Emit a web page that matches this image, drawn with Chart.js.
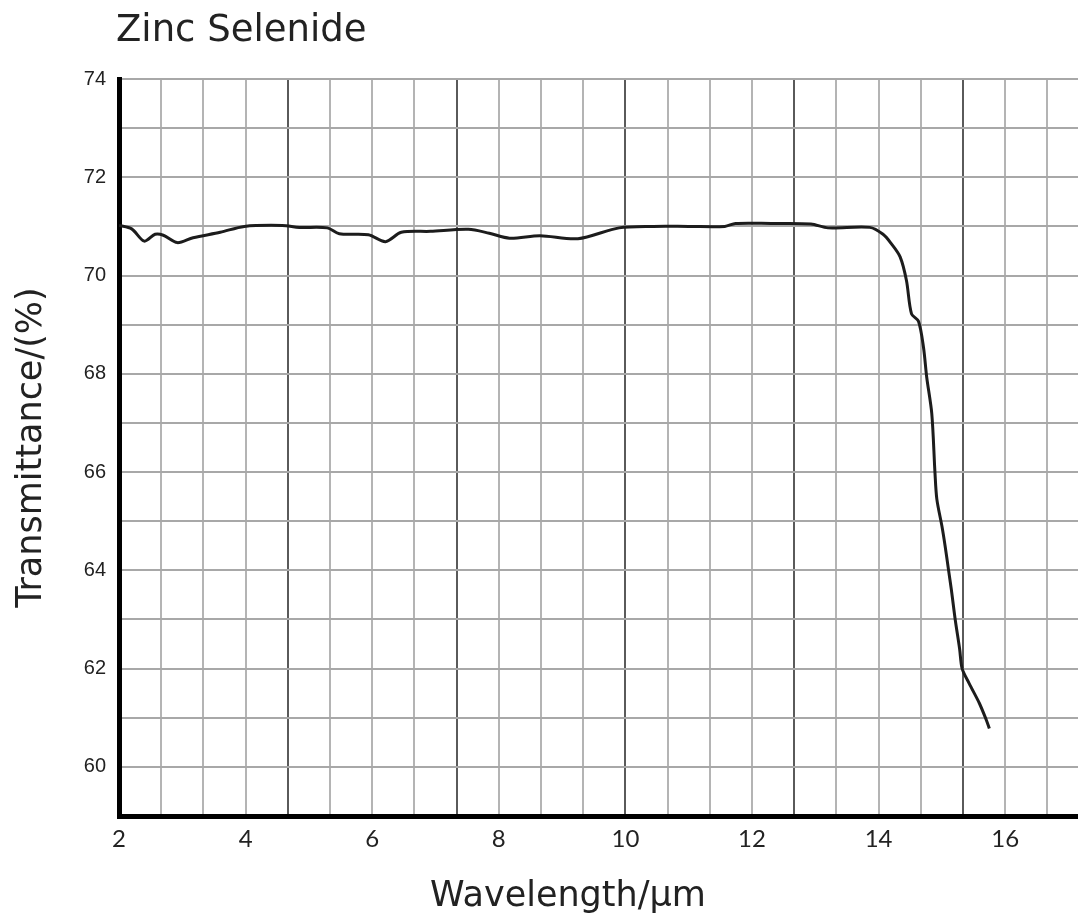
<!DOCTYPE html>
<html>
<head>
<meta charset="utf-8">
<script src="https://cdn.jsdelivr.net/npm/chart.js@4/dist/chart.umd.min.js"></script>
<style>
  body { margin: 0; background: #fff; }
  #wrap { width: 1078px; height: 919px; }
</style>
</head>
<body>
<div id="wrap"><canvas id="chart"></canvas></div>
<script>
// values
const wavelength = [2.0, 2.2, 2.4, 2.57, 2.7, 2.92, 3.17, 3.6, 3.98, 4.58, 4.85, 5.29, 5.48, 5.94,
  6.21, 6.46, 6.92, 7.52, 7.85, 8.17, 8.65, 9.25, 9.9, 10.44, 11.0, 11.57, 11.74, 12.3, 12.93,
  13.2, 13.86, 14.07, 14.2, 14.34, 14.44, 14.52, 14.63, 14.71, 14.76, 14.84, 14.89, 14.92, 15.0,
  15.05, 15.1, 15.15, 15.21, 15.28, 15.32, 15.43, 15.59, 15.7, 15.75];
const transmittance = [71.02, 70.95, 70.7, 70.84, 70.82, 70.67, 70.77, 70.88, 71.0, 71.02, 70.98,
  70.97, 70.85, 70.83, 70.69, 70.88, 70.9, 70.94, 70.86, 70.76, 70.81, 70.75, 70.97, 71.0, 71.0,
  71.0, 71.06, 71.06, 71.05, 70.97, 70.98, 70.84, 70.65, 70.38, 69.9, 69.22, 69.07, 68.53, 67.93,
  67.19, 66.0, 65.45, 64.9, 64.5, 64.05, 63.6, 63.0, 62.4, 62.0, 61.7, 61.3, 60.96, 60.78];

const xTickLabels = ['2', '4', '6', '8', '10', '12', '14', '16'];
const yTickLabels = ['60', '62', '64', '66', '68', '70', '72', '74'];

const chartTitle = 'Zinc Selenide';
const xTitle = 'Wavelength/\u03bcm';
const yTitle = 'Transmittance/(%)';

// grid: one vertical line every 2/3 um, a label every third line
const xGrid = [];
for (let i = 0; i < 23; i++) xGrid.push(2 + i * 2 / 3);

const textPlugin = {
  id: 'textPlugin',
  afterDraw(chart) {
    const ctx = chart.ctx;
    ctx.save();
    ctx.fillStyle = '#222';
    ctx.textBaseline = 'middle';
    ctx.font = '37px "DejaVu Sans"';
    ctx.textAlign = 'left';
    ctx.fillText(chartTitle, 116, 31);
    ctx.font = '35px "DejaVu Sans"';
    ctx.textAlign = 'center';
    ctx.fillText(xTitle, 568, 897);
    ctx.restore();
  }
};

Chart.defaults.font.family = 'Lato';
Chart.defaults.color = '#222';

new Chart(document.getElementById('chart'), {
  type: 'line',
  data: {
    datasets: [{
      data: wavelength.map((w, i) => ({ x: w, y: transmittance[i] })),
      borderColor: '#1c1c1c',
      borderWidth: 3,
      pointRadius: 0,
      tension: 0.3,
      fill: false
    }]
  },
  options: {
    responsive: true,
    maintainAspectRatio: false,
    animation: false,
    layout: { padding: { top: 79, left: 0, right: 0, bottom: 0 } },
    plugins: { legend: { display: false }, tooltip: { enabled: false } },
    scales: {
      x: {
        type: 'linear',
        min: 2,
        max: 17.15,
        afterBuildTicks: scale => { scale.ticks = xGrid.map(v => ({ value: v })); },
        afterFit: scale => { scale.height = 103; },
        ticks: {
          autoSkip: false,
          maxRotation: 0,
          padding: 9,
          color: '#222',
          font: { size: 24, family: 'Lato' },
          callback: (v, i) => (i % 3 === 0 ? xTickLabels[i / 3] : '')
        },
        grid: {
          drawTicks: false,
          lineWidth: 2,
          color: c => (c.index > 0 && c.index % 4 === 0 ? '#5a5a5a' : '#b4b4b4')
        },
        border: { color: '#000', width: 5 }
      },
      y: {
        min: 59,
        max: 74,
        afterFit: scale => { scale.width = 119; },
        ticks: {
          stepSize: 1,
          padding: 13,
          color: '#222',
          font: { size: 20, family: 'Liberation Sans' },
          callback: v => (yTickLabels.includes(String(v)) ? String(v) : '')
        },
        grid: { drawTicks: false, lineWidth: 2, color: '#a8a8a8' },
        border: { color: '#000', width: 5 },
        title: {
          display: true,
          text: yTitle,
          color: '#222',
          font: { size: 35, family: 'DejaVu Sans' },
          padding: { top: 11, bottom: 0 }
        }
      }
    }
  },
  plugins: [textPlugin]
});
</script>
</body>
</html>
